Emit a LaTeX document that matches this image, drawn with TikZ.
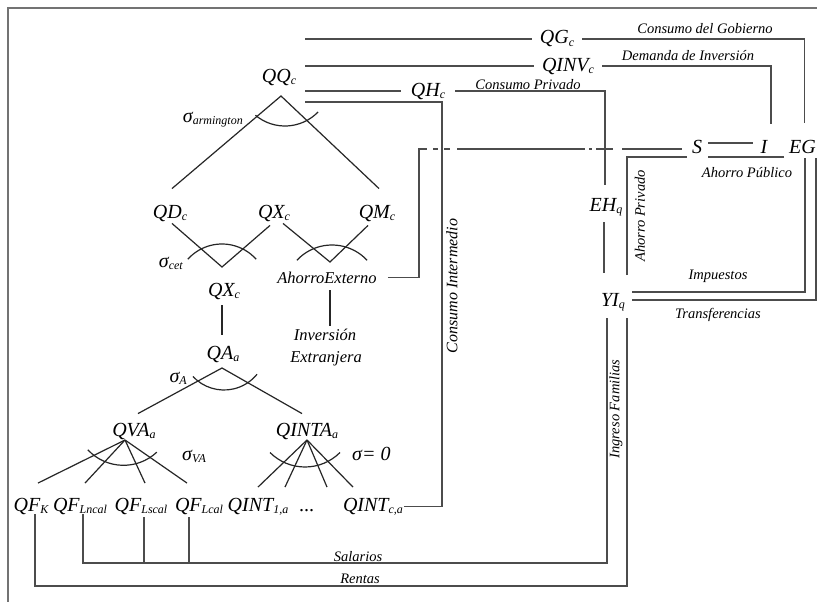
\documentclass[tikz,border=0pt]{standalone}
\usepackage{fontspec}
\setmainfont{Liberation Serif}
\newcommand\sbx[1]{\raisebox{-2.5pt}{\fontsize{12}{12}\selectfont #1}}
\begin{document}
\begin{tikzpicture}[x=1pt,y=-1pt,
  lab/.style={font=\fontsize{20}{22}\selectfont\itshape, inner sep=0pt, anchor=base},
  md/.style={font=\fontsize{16.5}{18}\selectfont\itshape, inner sep=0pt, anchor=base},
  sm/.style={font=\fontsize{14.5}{16}\selectfont\itshape, inner sep=0pt, anchor=base},
  rot/.style={sm, rotate=90, anchor=center},
  tree/.style={line width=1.2pt, draw=black!85},
  conn/.style={line width=1.3pt, draw=black!70},
  frame/.style={line width=1.6pt, draw=black!55},
  dd/.style={conn, dash pattern=on 168pt off 6pt on 5pt off 6pt on 6pt off 7pt on 128pt off 4pt on 3pt off 4pt on 17pt off 9pt on 200pt},
]
\useasboundingbox (0,0) rectangle (817,602);
\clip (0,0) rectangle (817,602);
\fill[white] (0,0) rectangle (817,602);
\draw[frame] (8,620) |- (840,8);

% ---------- nodes ----------
\node[lab] (qq) at (279,82) {QQ\sbx{c}};
\node[lab] (qg) at (557,44) {QG\sbx{c}};
\node[lab] (qinv) at (568,71) {QINV\sbx{c}};
\node[lab] (qh) at (428,96) {QH\sbx{c}};
\node[lab] (qd) at (170,218) {QD\sbx{c}};
\node[lab] (qx1) at (274,218) {QX\sbx{c}};
\node[lab] (qm) at (377,218) {QM\sbx{c}};
\node[md] (ae) at (327,283) {AhorroExterno};
\node[lab] (qx2) at (224,296) {QX\sbx{c}};
\node[md] (inv) at (325,340) {Inversión};
\node[md] (ext) at (326,362) {Extranjera};
\node[lab] (qa) at (223,359) {QA\sbx{a}};
\node[lab] (qva) at (134,436) {QVA\sbx{a}};
\node[lab] (qinta) at (307,436) {QINTA\sbx{a}};
\node[lab] (qfk) at (31,511) {QF\sbx{K}};
\node[lab] (qfln) at (80,511) {QF\sbx{Lncal}};
\node[lab] (qfls) at (141,511) {QF\sbx{Lscal}};
\node[lab] (qflc) at (199,511) {QF\sbx{Lcal}};
\node[lab] (qint1) at (258,511) {QINT\sbx{1,a}};
\node[lab] (dots) at (307,511) {...};
\node[lab] (qintc) at (373,511) {QINT\sbx{c,a}};
\node[lab] (s) at (697,153) {S};
\node[lab] (i) at (764,153) {I};
\node[lab, anchor=base west] (eg) at (789,153) {EG};
\node[lab] (eh) at (606,211) {EH\sbx{q}};
\node[lab] (yi) at (613,306) {YI\sbx{q}};

% sigma labels
\node[lab, anchor=base east] (sarm) at (243,122) {σ\sbx{armington}};
\node[lab, anchor=base east] (scet) at (183,267) {σ\sbx{cet}};
\node[lab, anchor=base east] (sa) at (187,382) {σ\sbx{A}};
\node[lab, anchor=base west] (sva) at (182,460) {σ\sbx{VA}};
\node[lab, anchor=base west] (s0) at (352,460) {σ= 0};

% small labels
\node[sm] (lgob) at (705,34) {Consumo del Gobierno};
\node[sm] (linv) at (688,61) {Demanda de Inversión};
\node[sm] (lpriv) at (528,89) {Consumo Privado};
\node[sm] (lpub) at (747,177) {Ahorro Público};
\node[sm] (limp) at (718,279) {Impuestos};
\node[sm] (ltra) at (718,318) {Transferencias};
\node[sm] (lsal) at (358,561) {Salarios};
\node[sm] (lren) at (360,583) {Rentas};
\node[rot, font=\fontsize{16}{18}\selectfont\itshape] (lci) at (452,286) {Consumo Intermedio};
\node[rot] (lap) at (640,216) {Ahorro Privado};
\node[rot] (lif) at (616,409) {Ingreso Familias};

% ---------- tree ----------
\coordinate (aQQ) at (281,96);
\draw[tree] ([shift={(2pt,16pt)}]qd.north) -- (aQQ) -- ([shift={(2pt,16pt)}]qm.north);
\draw[tree] ([shift={(-130:46pt)}]285,80) arc[start angle=-130, end angle=-44, radius=46pt];

\coordinate (vCET) at (222,267);
\draw[tree] ([shift={(2pt,-2pt)}]qd.south) -- (vCET) -- ([shift={(-4pt,-4pt)}]qx1.south);
\draw[tree] ([shift={(138:46pt)}]222,290) arc[start angle=138, end angle=42, radius=46pt];

\coordinate (vAE) at (330,262);
\draw[tree] ([shift={(9pt,-2pt)}]qx1.south) -- (vAE) -- ([shift={(-9pt,-4pt)}]qm.south);
\draw[tree] ([shift={(137:48pt)}]332,293) arc[start angle=137, end angle=43, radius=48pt];

\draw[tree] ([shift={(-2pt,-6pt)}]qx2.south) -- ([shift={(-1pt,11pt)}]qa.north);
\draw[tree] ([shift={(3pt,-7pt)}]ae.south) -- ([shift={(5pt,2pt)}]inv.north);

\coordinate (aQA) at (222,368);
\draw[tree] ([shift={(4pt,9pt)}]qva.north) -- (aQA) -- ([shift={(-5pt,9pt)}]qinta.north);
\draw[tree] ([shift={(-137:42.5pt)}]224,347.5) arc[start angle=-137, end angle=-39, radius=42.5pt];

\coordinate (aQVA) at (125,440);
\draw[tree] (aQVA) -- ([shift={(7pt,14.5pt)}]qfk.north);
\draw[tree] (aQVA) -- ([shift={(5pt,14.5pt)}]qfln.north);
\draw[tree] (aQVA) -- ([shift={(4pt,14.5pt)}]qfls.north);
\draw[tree] (aQVA) -- ([shift={(-12pt,14.5pt)}]qflc.north);
\draw[tree] ([shift={(-137:48.8pt)}]123.5,416.5) arc[start angle=-137, end angle=-47, radius=48.8pt];

\coordinate (aQI) at (307,440);
\draw[tree] (aQI) -- ([shift={(0pt,10.5pt)}]qint1.north);
\draw[tree] (aQI) -- ([shift={(27pt,10.5pt)}]qint1.north);
\draw[tree] (aQI) -- ([shift={(-46pt,10.5pt)}]qintc.north);
\draw[tree] (aQI) -- ([shift={(-20pt,10.5pt)}]qintc.north);
\draw[tree] ([shift={(-135:49.5pt)}]305,417.5) arc[start angle=-135, end angle=-45, radius=49.5pt];

% ---------- connectors ----------
\coordinate (qqr) at ([xshift=9pt]qq.east);
\coordinate (cib) at (442,102);
\draw[conn] (qqr |- qg.west) -- ([xshift=-8pt]qg.west);
\draw[conn] ([xshift=8pt]qg.east) -| ([xshift=2pt,yshift=17pt]eg.north);
\draw[conn] (qqr |- qinv.west) -- ([xshift=-8pt]qinv.west);
\draw[conn] ([xshift=8pt]qinv.east) -| ([xshift=7pt,yshift=16pt]i.north);
\draw[conn] (qqr |- qh.west) -- ([xshift=-10pt]qh.west);
\draw[conn] ([xshift=10pt]qh.east) -| ([xshift=-1pt,yshift=13pt]eh.north);
\draw[conn] (qqr |- cib) -- (cib) |- ([xshift=1pt]qintc.east);

\coordinate (aeb) at (419,0);
\coordinate (sw) at ([xshift=-10pt,yshift=4pt]s.base west);
\coordinate (aee) at ([xshift=11pt]ae.east);
\draw[dd] (aee) -| (aeb |- sw) -- (sw);

\draw[conn] ([xshift=6pt,yshift=10pt]s.base east) -- ([xshift=-7pt,yshift=10pt]i.base west);
\draw[conn] ([xshift=-5pt,yshift=-4pt]eg.base west) -- ([xshift=6pt,yshift=-4pt]s.base east);
\draw[conn] ([xshift=14pt,yshift=31pt]yi.base) |- ([xshift=-5pt,yshift=-4pt]s.base west);
\coordinate (ehs) at ([xshift=-2pt,yshift=-11pt]eh.base);
\draw[conn] (ehs) -- ([yshift=20pt]ehs |- yi.north);
\draw[conn] ([xshift=7pt,yshift=14pt]yi.base east) -| ([xshift=16pt,yshift=-5pt]eg.base west);
\draw[conn] ([xshift=27pt,yshift=-5pt]eg.base west) |- ([xshift=7pt,yshift=6pt]yi.base east);

\coordinate (salb) at (83,563);
\coordinate (renb) at (35,586);
\draw[conn] ([xshift=-6pt,yshift=-12pt]yi.base) |- (salb) -- (salb |- qfln.south);
\coordinate (lsb) at ([shift={(3pt,-3pt)}]qfls.south);
\coordinate (lcb) at ([shift={(-10pt,-3pt)}]qflc.south);
\draw[conn] (lsb) -- (lsb |- salb);
\draw[conn] (lcb) -- (lcb |- salb);
\draw[conn] ([xshift=14pt,yshift=-12pt]yi.base) |- (renb) -- (renb |- qfk.south);
\end{tikzpicture}
\end{document}
